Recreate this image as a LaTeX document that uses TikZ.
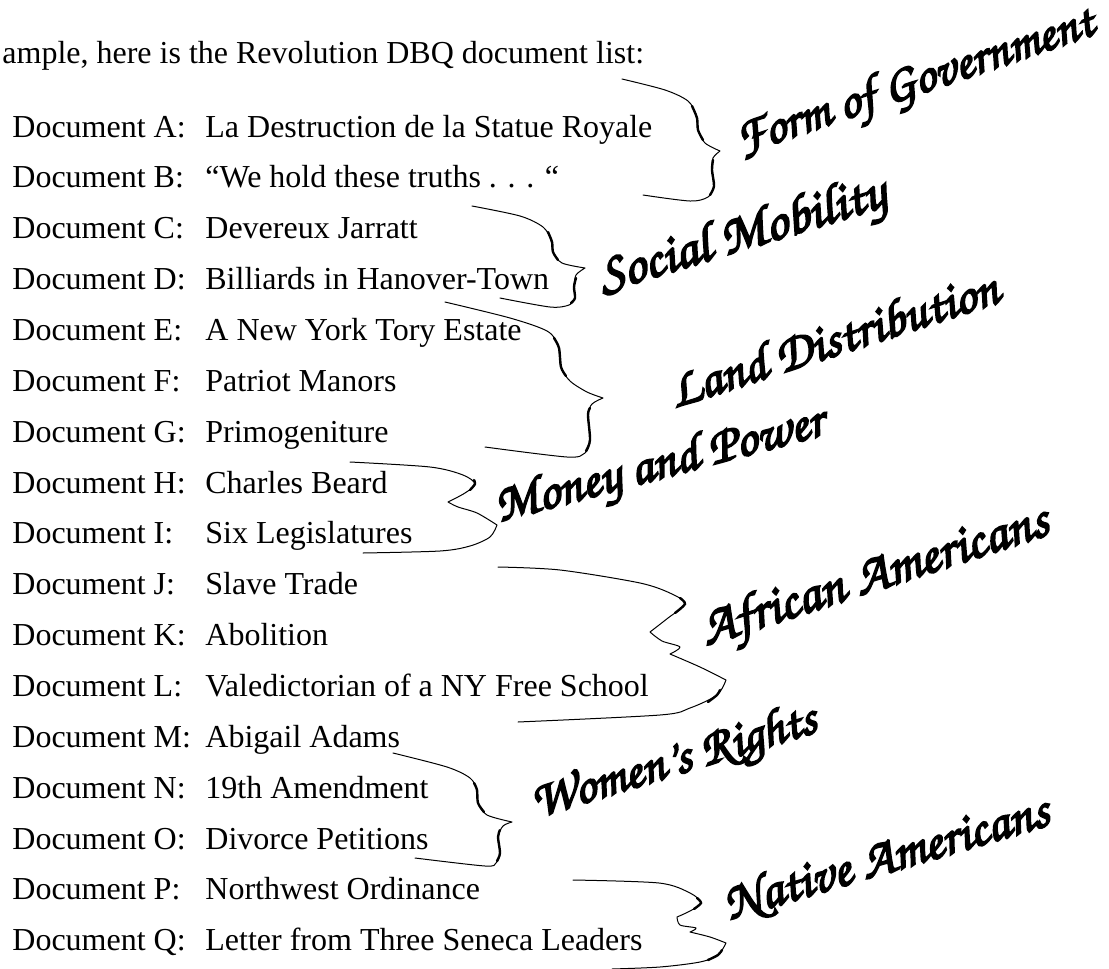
\documentclass[tikz,border=0pt]{standalone}
\usepackage[T1]{fontenc}
\usepackage{fontspec}
\setmainfont{Liberation Serif}
\usepackage{tikz}
\usetikzlibrary{positioning}

\newcommand{\listfont}{\fontsize{16}{19}\selectfont}
\newcommand{\inkfont}[1]{\fontencoding{T1}\fontfamily{pzc}\fontseries{mb}\fontshape{it}\fontsize{#1}{#1}\selectfont}

\tikzset{
  docname/.style={anchor=base west, inner sep=0pt, font=\listfont},
  doctitle/.style={anchor=base west, inner sep=0pt, font=\listfont},
  theme/.style={anchor=base west, inner sep=0pt, font=\inkfont{#1},
    execute at begin node={\special{pdf:literal direct 2 Tr 0.9 w}},
    execute at end node={\special{pdf:literal direct 0 Tr}}},
  brace/.style={line width=0.5pt, line cap=round, line join=round},
  bracecore/.style={line width=1.2pt, line cap=round}
}

\begin{document}
\begin{tikzpicture}[x=0.5pt, y=-0.5pt]
  \fill[white] (0,0) rectangle (1109,969);
  \useasboundingbox (0,0) rectangle (1109,969);

  % intro line
  \node[docname] (intro) at (2,63) {ample, here is the Revolution DBQ document list:};

  % the document list
  \foreach \k/\l/\t in {0/A/La Destruction de la Statue Royale,
      1/B/“We hold these truths . . . “, 2/C/Devereux Jarratt,
      3/D/Billiards in Hanover-Town, 4/E/A New York Tory Estate,
      5/F/Patriot Manors, 6/G/Primogeniture, 7/H/Charles Beard,
      8/I/Six Legislatures, 9/J/Slave Trade, 10/K/Abolition,
      11/L/Valedictorian of a NY Free School, 12/M/Abigail Adams,
      13/N/19th Amendment, 14/O/Divorce Petitions,
      15/P/Northwest Ordinance, 16/Q/Letter from Three Seneca Leaders}{
    \node[docname] (doc\l) at (12,{137+50.86*\k}) {Document \l:};
    \node[doctitle] (title\l) at (205,{137+50.86*\k}) {\t};
  }

  % braces
  \draw[brace] plot[smooth] coordinates {(622,79) (665,90) (688,101) (696,115) (698,130) (705,143) (720,151)}
               plot[smooth] coordinates {(720,151) (713,158) (712,170) (714,186) (708,197) (690,201) (643,195)};
  \draw[brace] plot[smooth] coordinates {(472,206) (520,216) (543,227) (551,240) (553,252) (562,263) (585,268)}
               plot[smooth] coordinates {(585,268) (576,275) (574,287) (575,298) (569,305) (550,307) (500,298)};
  \draw[brace] plot[smooth] coordinates {(445,302) (510,318) (547,331) (558,345) (561,367) (570,381) (587,392) (603,398)}
               plot[smooth] coordinates {(603,398) (592,404) (588,415) (590,440) (585,453) (567,457) (485,447)};
  \draw[brace] plot[smooth] coordinates {(350,462) (430,467) (463,475) (475,484) (465,493) (448,502)}
               plot[smooth] coordinates {(448,502) (458,507) (477,513) (497,525)}
               plot[smooth] coordinates {(497,525) (490,537) (470,546) (440,551) (363,553)};
  \draw[brace] plot[smooth] coordinates {(498,567) (560,570) (640,583) (672,594) (685,604) (668,618) (650,632)}
               plot[smooth] coordinates {(650,632) (662,641) (680,647) (670,654)}
               plot[smooth] coordinates {(670,654) (700,667) (726,680)}
               plot[smooth] coordinates {(726,680) (717,695) (690,708) (660,715) (518,722)};
  \draw[brace] plot[smooth] coordinates {(393,753) (447,767) (470,778) (477,790) (478,803) (487,815) (512,822)}
               plot[smooth] coordinates {(512,822) (503,826) (498,837) (500,853) (496,863) (485,866) (415,858)};
  \draw[brace] plot[smooth] coordinates {(573,880) (659,883) (690,893) (701,903) (690,911) (677,917)}
               plot[smooth] coordinates {(677,917) (680,925) (696,928) (690,932)}
               plot[smooth] coordinates {(690,932) (710,937) (726,943)}
               plot[smooth] coordinates {(726,943) (718,955) (700,962) (660,967) (612,969)};

  % heavier middle strokes
  \draw[bracecore] plot[smooth] coordinates {(692,106) (697,118) (698,130) (703,140)};
  \draw[bracecore] plot[smooth] coordinates {(713,160) (712,170) (714,186) (710,195)};
  \draw[bracecore] plot[smooth] coordinates {(548,232) (552,242) (553,252) (558,260)};
  \draw[bracecore] plot[smooth] coordinates {(576,278) (574,287) (575,298) (571,303)};
  \draw[bracecore] plot[smooth] coordinates {(554,338) (559,348) (561,367) (566,376)};
  \draw[bracecore] plot[smooth] coordinates {(590,408) (588,415) (590,440) (586,451)};
  \draw[bracecore] plot[smooth] coordinates {(474,480) (475,484) (470,490)};
  \draw[bracecore] plot[smooth] coordinates {(680,598) (685,604) (675,613)};
  \draw[bracecore] plot[smooth] coordinates {(720,690) (717,695) (708,702)};
  \draw[bracecore] plot[smooth] coordinates {(474,783) (477,790) (478,803) (484,812)};
  \draw[bracecore] plot[smooth] coordinates {(500,830) (498,837) (500,853) (497,861)};
  \draw[bracecore] plot[smooth] coordinates {(697,898) (701,903) (694,909)};
  \draw[bracecore] plot[smooth] coordinates {(722,950) (718,955) (708,960)};

  % themes
  \node[theme=25.5, rotate=18.8] (form)   at (741,155) {Form of Government};
  \node[theme=27.5, rotate=17]   (social) at (603,293) {Social Mobility};
  \node[theme=26.2, rotate=18]   (land)   at (675,408) {Land Distribution};
  \node[theme=26.2, rotate=15]   (money)  at (499,522) {Money and Power};
  \node[theme=27.5, rotate=18]   (africa) at (706,646) {African Americans};
  \node[theme=25.7, rotate=17]   (women)  at (536,818) {Women's Rights};
  \node[theme=26.5, rotate=16.5] (native) at (729,920) {Native Americans};
\end{tikzpicture}
\end{document}
